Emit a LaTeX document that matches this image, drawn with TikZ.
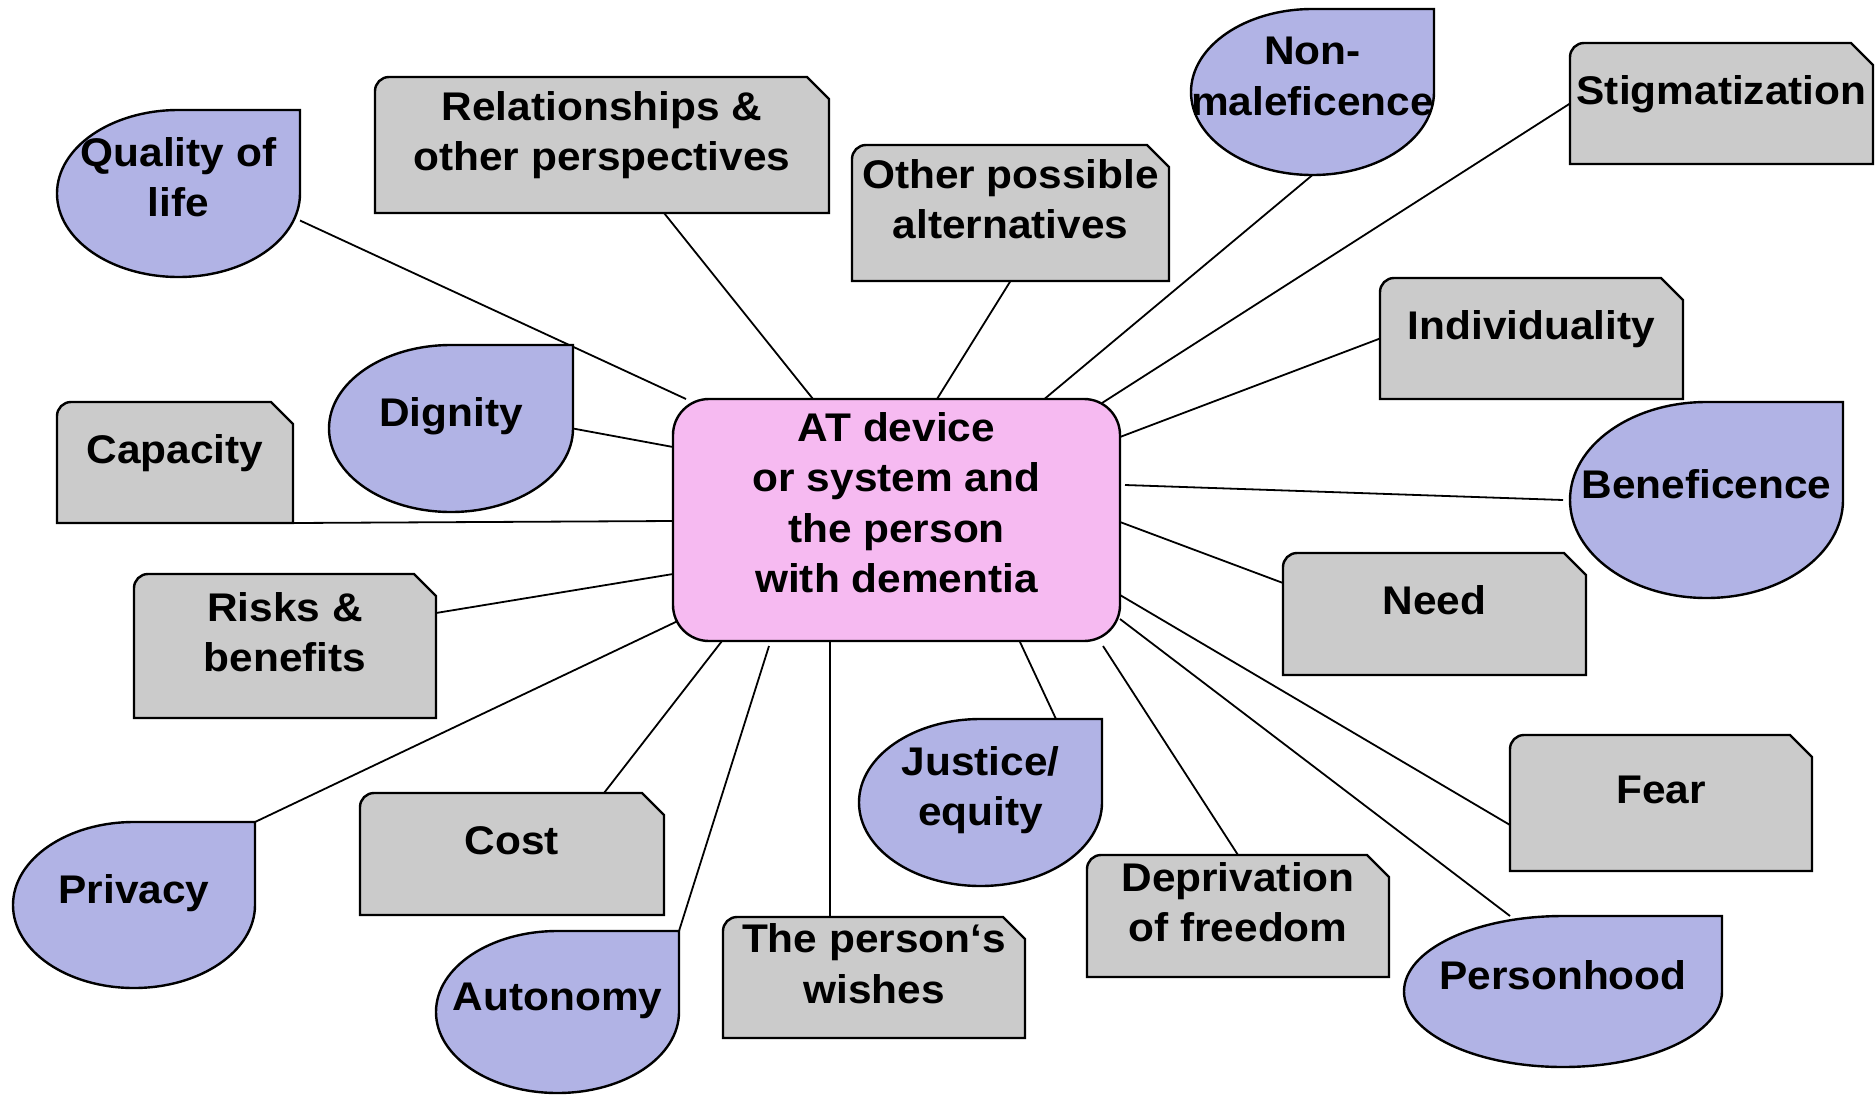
\documentclass[tikz,border=0pt]{standalone}
\usepackage{fontspec}
\setmainfont{Liberation Sans}[FakeStretch=1.06]
\usetikzlibrary{calc}

\pgfdeclarelayer{wires}
\pgfdeclarelayer{shapes}
\pgfsetlayers{wires,shapes,main}

\definecolor{boxgray}{HTML}{CBCBCB}
\definecolor{dropblue}{HTML}{B1B3E5}
\definecolor{corepink}{HTML}{F6BAF1}

% centred block of lines, raised without changing its reported size
\newcommand\lifted[2]{\makebox[0pt]{\raisebox{#1}[\height][\depth]{\begin{tabular}{@{}c@{}}#2\end{tabular}}}}
\newcommand\boxlift{9.5pt}
\newcommand\droplift{12pt}
\newcommand\corelift{13pt}

\begin{document}
\begin{tikzpicture}[x=1pt, y=-1pt,
  wire/.style={line width=1.8pt, draw=black},
  termfont/.style={font=\bfseries\fontsize{40}{50.5}\selectfont},
  concept/.style={rectangle, inner sep=0pt, outer sep=0pt, termfont},
  span/.style n args={4}{at={({(#1+#3)/2},{(#2+#4)/2})},
    minimum width={(#3-#1)*1pt}, minimum height={(#4-#2)*1pt}},
  grayshape/.style={fill=boxgray, draw=black, line width=2.4pt},
  dropshape/.style={fill=dropblue, draw=black, line width=2.4pt},
  core/.style={concept, draw=black, fill=corepink, line width=2.4pt, rounded corners=36pt}]

\useasboundingbox (0,0) rectangle (1876,1095);

% central topic
\node[core, span={673}{399}{1120}{641}] (c)
  {\lifted{\corelift}{AT device\\or system and\\the person\\with dementia}};

% values (drop shapes)
\node[concept, span={57}{110}{300}{277}]    (ql)    {\lifted{\droplift}{Quality of\\life}};
\node[concept, span={329}{345}{573}{512}]   (dig)   {\lifted{\droplift}{Dignity}};
\node[concept, span={1191}{9}{1434}{175}]   (nonm)  {\lifted{\droplift}{Non-\\maleficence}};
\node[concept, span={1570}{402}{1843}{598}] (benef) {\lifted{\droplift}{Beneficence}};
\node[concept, span={859}{719}{1102}{886}]  (just)  {\lifted{\droplift}{Justice/\\equity}};
\node[concept, span={13}{822}{255}{988}]    (priv)  {\lifted{\droplift}{Privacy}};
\node[concept, span={436}{931}{679}{1093}]  (auto)  {\lifted{\droplift}{Autonomy}};
\node[concept, span={1404}{916}{1722}{1067}](pers)  {\lifted{\droplift}{Personhood}};

% issues (snipped boxes)
\node[concept, span={375}{77}{829}{213}]    (rel)   {\lifted{\boxlift}{Relationships \&\\other perspectives}};
\node[concept, span={852}{145}{1169}{281}]  (alt)   {\lifted{\boxlift}{Other possible\\alternatives}};
\node[concept, span={1570}{43}{1873}{164}]  (stig)  {\lifted{\boxlift}{Stigmatization}};
\node[concept, span={1380}{278}{1683}{399}] (indiv) {\lifted{\boxlift}{Individuality}};
\node[concept, span={57}{402}{293}{523}]    (cap)   {\lifted{\boxlift}{Capacity}};
\node[concept, span={134}{574}{436}{718}]   (risks) {\lifted{\boxlift}{Risks \&\\benefits}};
\node[concept, span={360}{793}{664}{915}]   (cost)  {\lifted{\boxlift}{Cost}};
\node[concept, span={723}{917}{1025}{1038}] (wish)  {\lifted{\boxlift}{The person‘s\\wishes}};
\node[concept, span={1283}{553}{1586}{675}] (need)  {\lifted{\boxlift}{Need}};
\node[concept, span={1510}{735}{1812}{871}] (fear)  {\lifted{\boxlift}{Fear}};
\node[concept, span={1087}{855}{1389}{977}] (depr)  {\lifted{\boxlift}{Deprivation\\of freedom}};

% outlines behind the texts
\begin{pgfonlayer}{shapes}
  \foreach \k in {rel,alt,stig,indiv,cap,risks,cost,wish,need,fear,depr}
    \path[grayshape] (\k.south west) -- ([yshift=-14pt]\k.north west)
      arc[start angle=180, end angle=90, radius=14pt]
      -- ([xshift=-22pt]\k.north east) -- ([yshift=-22pt]\k.north east)
      -- (\k.south east) -- cycle;
  \foreach \k in {ql,dig,nonm,benef,just,priv,auto,pers}
    \path[dropshape] let \p1=(\k.north east), \p2=(\k.south west) in
      (\k.north) arc[start angle=90, end angle=360,
        x radius={0.5*(\x1-\x2)}, y radius={0.5*(\y1-\y2)}]
      -- (\k.north east) -- cycle;
\end{pgfonlayer}

% spokes from each aspect to the centre
\begin{pgfonlayer}{wires}
  \draw[wire] ([yshift=-27pt]ql.east) -- ([xshift=13pt]c.north west);
  \draw[wire] ([xshift=62pt]rel.south) -- ([xshift=140pt]c.north west);
  \draw[wire] (alt.south) -- ([xshift=264pt]c.north west);
  \draw[wire] (nonm.south) -- ([xshift=369pt,yshift=-2pt]c.north west);
  \draw[wire] (stig.west) -- ([xshift=-18pt,yshift=-4pt]c.north east);
  \draw[wire] (indiv.west) -- ([yshift=-38pt]c.north east);
  \draw[wire] ([xshift=-7pt]benef.west) -- ([xshift=5pt,yshift=35pt]c.east);
  \draw[wire] ([yshift=31pt]need.west) -- ([yshift=-2pt]c.east);
  \draw[wire] ([yshift=-22pt]fear.west) -- ([yshift=46pt]c.south east);
  \draw[wire] ([xshift=106pt]pers.north west) -- ([yshift=22pt]c.south east);
  \draw[wire] (depr.north) -- ([xshift=-17pt,yshift=-5pt]c.south east);
  \draw[wire] ([xshift=-46pt]just.north east) -- ([xshift=-100pt,yshift=-1pt]c.south east);
  \draw[wire] ([xshift=107pt]wish.north west) -- ([xshift=157pt]c.south west);
  \draw[wire] (auto.north east) -- ([xshift=96pt,yshift=-5pt]c.south west);
  \draw[wire] ([xshift=-60pt]cost.north east) -- ([xshift=49pt]c.south west);
  \draw[wire] (priv.north east) -- ([xshift=9pt,yshift=22pt]c.south west);
  \draw[wire] ([yshift=-39pt]risks.north east) -- ([yshift=67pt]c.south west);
  \draw[wire] (cap.south east) -- ([yshift=-1pt]c.west);
  \draw[wire] (dig.east) -- ([yshift=-48pt]c.north west);
\end{pgfonlayer}
\end{tikzpicture}
\end{document}
